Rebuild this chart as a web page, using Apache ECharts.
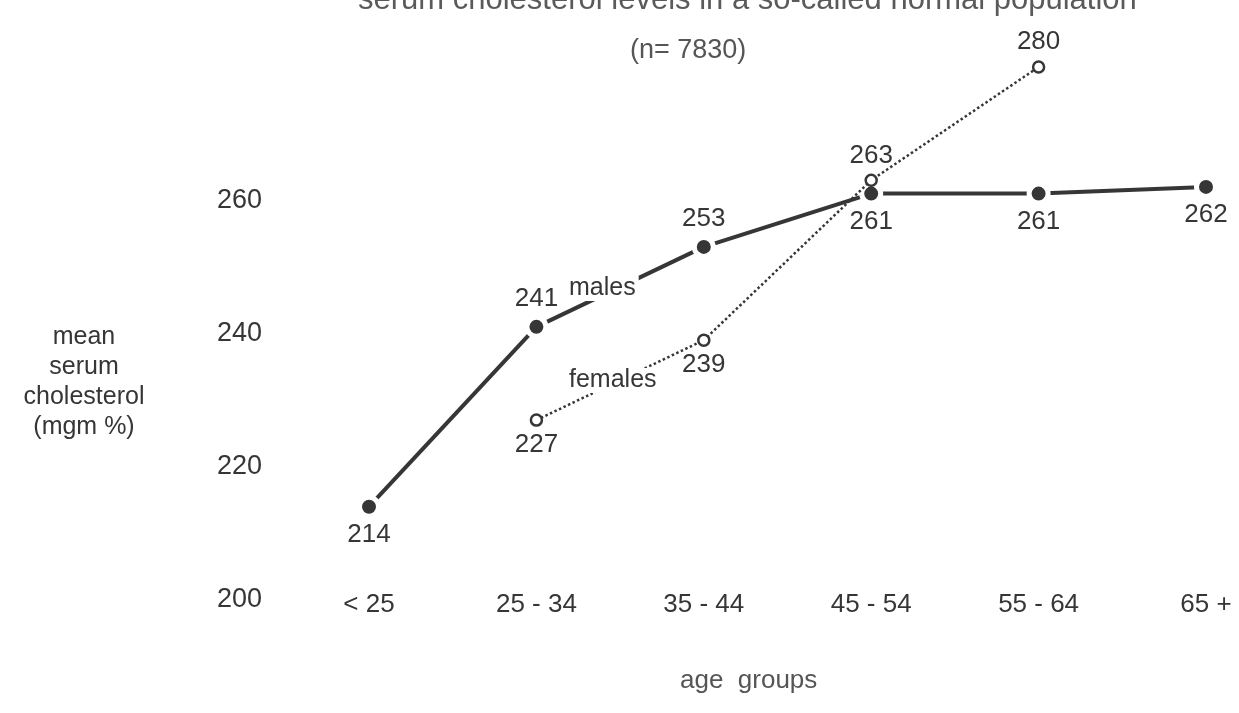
<!DOCTYPE html>
<html>
<head>
<meta charset="utf-8">
<script src="https://cdn.jsdelivr.net/npm/echarts@6/dist/echarts.min.js"></script>
<style>
  html, body { margin: 0; padding: 0; background: #fff; }
  #chart { width: 1239px; height: 713px; }
</style>
</head>
<body>
<div id="chart"></div>
<script>
var ageGroups = ['<25', '25-34', '35-44', '45-54', '55-64', '65+'];
var ageLabels = ['< 25', '25 - 34', '35 - 44', '45 - 54', '55 - 64', '65 +'];
var males = [214, 241, 253, 261, 261, 262];
var females = [null, 227, 239, 263, 280, null];
var yTicks = [200, 220, 240, 260];

// where each value label sits
var malePos = ['bottom', 'top', 'top', 'bottom', 'bottom', 'bottom'];
var femalePos = [null, 'bottom', 'bottom', 'top', 'top', null];

var ink = '#363636';
var font = 'Liberation Sans, Arial, sans-serif';

var myChart = echarts.init(document.getElementById('chart'));

function withLabels(values, pos) {
  return values.map(function(v, i) {
    if (v == null) return null;
    return { value: v, label: { position: pos[i] } };
  });
}

var option = {
  backgroundColor: '#fff',
  animation: false,
  grid: { left: 369, right: 33, top: 67, bottom: 113 },
  xAxis: {
    type: 'category',
    boundaryGap: false,
    data: ageGroups,
    axisLine: { show: false },
    axisTick: { show: false },
    axisLabel: {
      margin: -8,
      color: ink,
      fontFamily: font,
      fontSize: 26,
      formatter: function(v, i) { return ageLabels[i]; }
    }
  },
  yAxis: {
    type: 'value',
    min: 200,
    max: 280,
    interval: 20,
    splitLine: { show: false },
    axisLine: { show: false },
    axisTick: { show: false },
    axisLabel: {
      margin: 107,
      color: ink,
      fontFamily: font,
      fontSize: 27,
      formatter: function(v) { return yTicks.indexOf(v) >= 0 ? v : ''; }
    }
  },
  series: [{
    name: 'males',
    type: 'line',
    data: withLabels(males, malePos),
    symbol: 'circle',
    symbolSize: 19,
    lineStyle: { color: ink, width: 4 },
    itemStyle: { color: ink, borderColor: '#fff', borderWidth: 5 },
    label: {
      show: true,
      distance: 3,
      color: ink,
      fontFamily: font,
      fontSize: 26
    },
    z: 2
  }, {
    name: 'females',
    type: 'line',
    data: withLabels(females, femalePos),
    connectNulls: false,
    symbol: 'circle',
    symbolSize: 11,
    showAllSymbol: true,
    lineStyle: { color: ink, width: 2.5, type: 'dotted' },
    itemStyle: { color: '#fff', borderColor: ink, borderWidth: 2.5 },
    label: {
      show: true,
      distance: 5,
      color: ink,
      fontFamily: font,
      fontSize: 26
    },
    z: 3
  }],
  graphic: [{
    type: 'text',
    x: 358,
    y: -15,
    style: {
      text: 'serum cholesterol levels in a so-called normal population',
      fill: '#5a5a5a',
      font: '31px "Liberation Sans Narrow", "Liberation Sans", sans-serif'
    }
  }, {
    type: 'text',
    x: 630,
    y: 37,
    style: {
      text: '(n= 7830)',
      fill: '#555',
      font: '27px "Liberation Sans", sans-serif'
    }
  }, {
    type: 'text',
    x: 84,
    y: 322,
    style: {
      text: 'mean\nserum\ncholesterol\n(mgm %)',
      fill: ink,
      align: 'center',
      lineHeight: 30,
      font: '25px ' + font
    }
  }, {
    type: 'text',
    x: 680,
    y: 668,
    style: {
      text: 'age  groups',
      fill: '#555',
      font: '26px "Liberation Sans", sans-serif'
    }
  }, {
    type: 'text',
    x: 566,
    y: 276,
    z: 10,
    style: {
      text: 'males',
      fill: ink,
      backgroundColor: '#fff',
      padding: [0, 3],
      font: '25px ' + font
    }
  }, {
    type: 'text',
    x: 566,
    y: 368,
    z: 10,
    style: {
      text: 'females',
      fill: ink,
      backgroundColor: '#fff',
      padding: [0, 3],
      font: '25px ' + font
    }
  }]
};

myChart.setOption(option);
</script>
</body>
</html>
